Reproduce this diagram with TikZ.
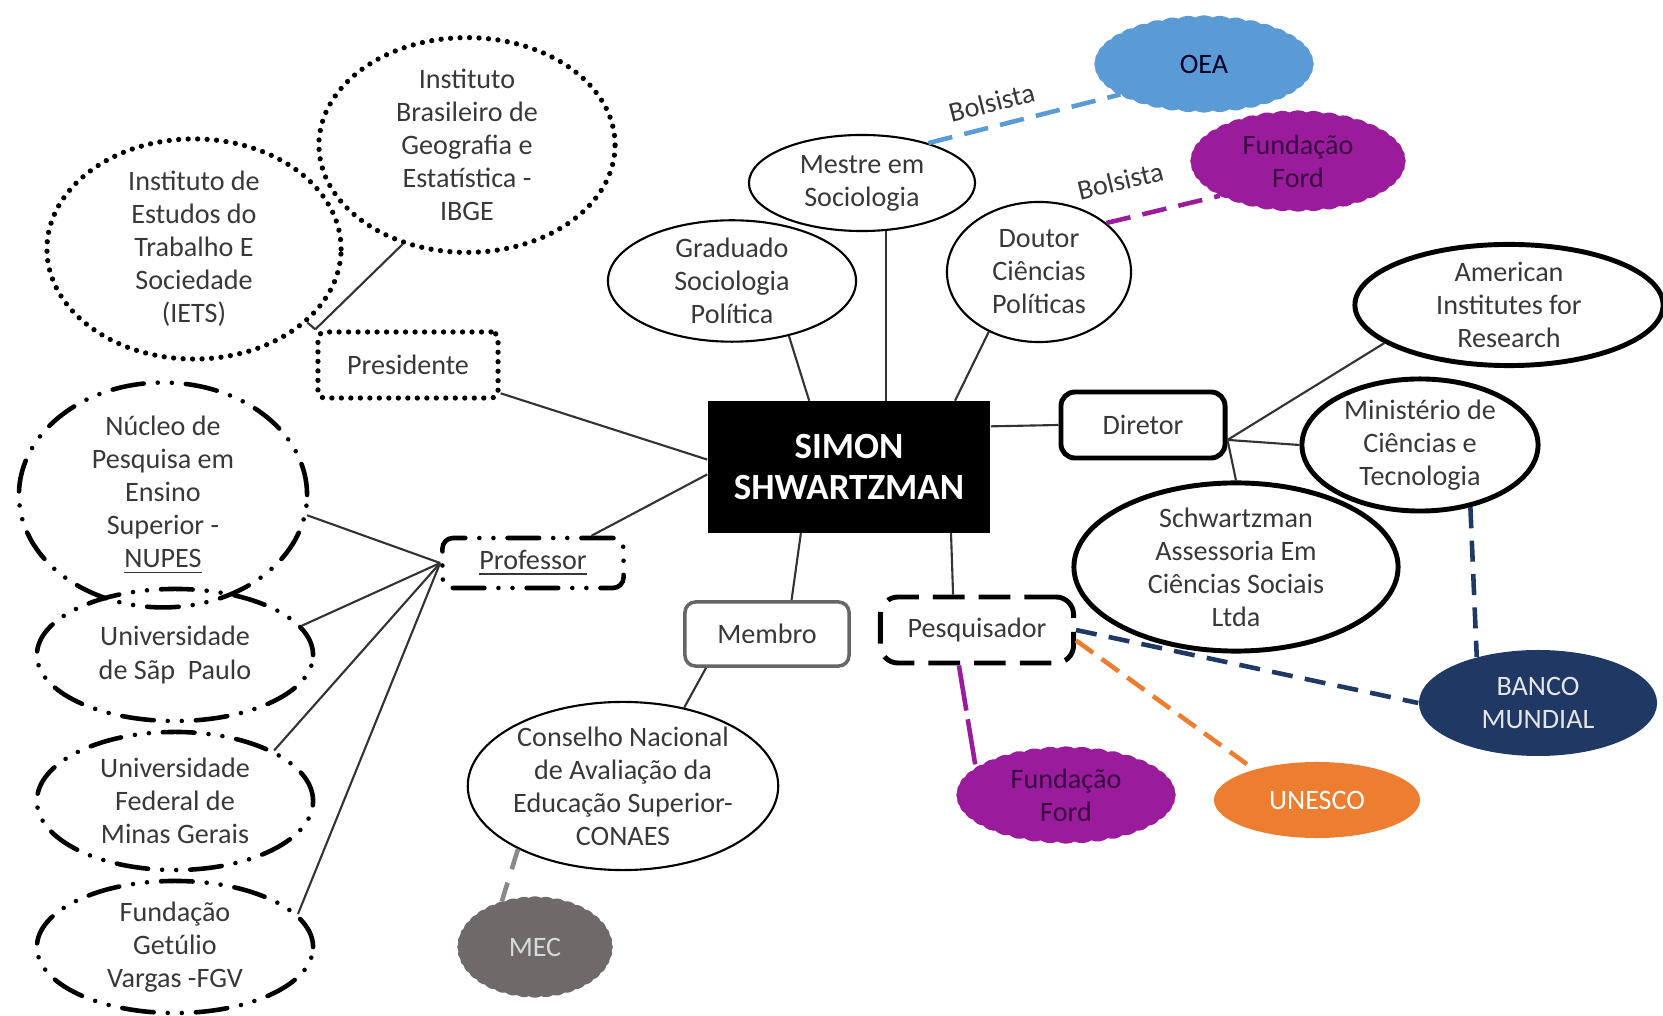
\documentclass[tikz,border=0pt]{standalone}
\usepackage{fontspec}
\setmainfont{Carlito}
\usetikzlibrary{shapes.geometric,shapes.symbols}

\definecolor{oeablue}{HTML}{5B9BD5}
\definecolor{fordpurple}{HTML}{9A1C9C}
\definecolor{fordtext}{HTML}{3A0B40}
\definecolor{unescoorange}{HTML}{ED7D31}
\definecolor{banconavy}{HTML}{1F3864}
\definecolor{mecgray}{HTML}{6F6A6A}

\tikzset{
  every node/.style = {font=\fontsize{8}{9.4}\selectfont, text=black!78, align=center},
  oval/.style = {ellipse, draw, inner sep=0pt},
  thinoval/.style = {oval, line width=0.6pt},
  boldoval/.style = {oval, line width=1.4pt},
  dotline/.style = {line width=1.5pt, line cap=round, dash pattern=on 0pt off 2.7pt},
  dashdotdot/.style = {line width=1.3pt, line cap=round, dash pattern=on 9pt off 4pt on 0pt off 4pt on 0pt off 4pt},
  cloudy/.style = {cloud, cloud puffs=40, cloud puff arc=60, cloud ignores aspect, inner sep=0pt},
  link/.style = {line width=0.6pt, black!80},
  colorlink/.style = {line width=1.3pt, dash pattern=on 7pt off 3.5pt},
}

\begin{document}
\begin{tikzpicture}[x=0.01cm, y=-0.01cm]
            \useasboundingbox (0,0) rectangle (1663,1016);

            %Simon
            \node [rectangle, fill=black, text=white, minimum width=2.82cm, minimum height=1.31cm, font=\fontsize{10.5}{11.6}\selectfont\bfseries]
            (simon)at(849,467){SIMON\\SHWARTZMAN};

            %Presidente
            \node [draw, dotline, rounded corners=2pt, minimum width=1.8cm, minimum height=0.66cm]
            (pres)at(408,365){Presidente};
            \node [oval, dotline, minimum width=2.94cm, minimum height=2.02cm]
            (iets)at(194,249){Instituto de\\Estudos do\\Trabalho E\\Sociedade\\(IETS)};
            \node [oval, dotline, minimum width=2.96cm, minimum height=1.98cm]
            (ibge)at(467,145){Instituto\\Brasileiro de\\Geografia e\\Estatística -\\IBGE};

            %Professor
            \node [draw, dashdotdot, rounded corners=3pt, minimum width=1.81cm, minimum height=0.37cm]
            (prof)at(533,563){\underline{Professor}};
            \node [oval, dashdotdot, minimum width=2.88cm, minimum height=1.64cm]
            (nupes)at(163,495){Núcleo de\\Pesquisa em\\Ensino\\Superior -\\\underline{NUPES}};
            \node [oval, dashdotdot, minimum width=2.76cm, minimum height=1.32cm]
            (usp)at(175,655){Universidade\\de Sãp~ Paulo};
            \node [oval, dashdotdot, minimum width=2.76cm, minimum height=1.38cm]
            (ufmg)at(175,801){Universidade\\Federal de\\Minas Gerais};
            \node [oval, dashdotdot, minimum width=2.76cm, minimum height=1.32cm]
            (fgv)at(175,947){Fundação\\Getúlio\\Vargas -FGV};

            %Formacao
            \node [thinoval, minimum width=2.48cm, minimum height=1.0cm]
            (grad)at(732,281){Graduado\\Sociologia\\Política};
            \node [thinoval, minimum width=2.26cm, minimum height=0.96cm]
            (mestre)at(862,183){Mestre em\\Sociologia};
            \node [thinoval, minimum width=1.84cm, minimum height=1.4cm]
            (doutor)at(1039,272){Doutor\\Ciências\\Políticas};
            \node [cloudy, fill=oeablue, draw=oeablue, text=black!85!blue, minimum width=2.18cm, minimum height=0.96cm]
            (oea)at(1204,64){OEA};
            \node [cloudy, fill=fordpurple, draw=fordpurple, text=fordtext, minimum width=2.14cm, minimum height=1.0cm]
            (ford1)at(1298,161){Fundação\\Ford};

            %Diretor
            \node [draw, line width=1.4pt, rounded corners=4pt, minimum width=1.64cm, minimum height=0.66cm]
            (diretor)at(1143,425){Diretor};
            \node [boldoval, minimum width=3.08cm, minimum height=1.16cm]
            (american)at(1509,305){American\\Institutes for\\Research};
            \node [boldoval, minimum width=2.36cm, minimum height=1.32cm]
            (ministerio)at(1420,445){Ministério de\\Ciências e\\Tecnologia};
            \node [boldoval, minimum width=3.24cm, minimum height=1.38cm]
            (schwartz)at(1236,567){Schwartzman\\Assessoria Em\\Ciências Sociais\\Ltda};

            %Membro
            \node [draw=black!60, line width=1pt, rounded corners=3pt, minimum width=1.64cm, minimum height=0.64cm]
            (membro)at(767,634){Membro};
            \node [thinoval, minimum width=3.02cm, minimum height=1.48cm]
            (conaes)at(623,786){Conselho Nacional\\de Avaliação da\\Educação Superior-\\CONAES};
            \node [cloudy, fill=mecgray, draw=mecgray, text=white!85!black, minimum width=1.54cm, minimum height=1.0cm]
            (mec)at(535,947){MEC};

            %Pesquisador
            \node [draw, line width=1.4pt, dash pattern=on 9pt off 4pt, rounded corners=5pt, minimum width=1.93cm, minimum height=0.66cm]
            (pesq)at(977,630){Pesquisador};
            \node [cloudy, fill=fordpurple, draw=fordpurple, text=fordtext, minimum width=2.18cm, minimum height=0.96cm]
            (ford2)at(1066,795){Fundação\\Ford};
            \node [ellipse, fill=unescoorange, text=white, minimum width=2.06cm, minimum height=0.76cm]
            (unesco)at(1317,800){UNESCO};
            \node [ellipse, fill=banconavy, text=white!90!black, minimum width=2.38cm, minimum height=0.9cm]
            (banco)at(1538,703){BANCO\\MUNDIAL};

            %Presidente links
            \draw [link](iets.-33)--(pres.north west);
            \draw [link](ibge.-123)--(pres.north west);
            \draw [link](pres.-17)--(simon.177);

            %Professor links
            \draw [link](prof.25)--(simon.183);
            \draw [link](nupes.-8)--(prof.west);
            \draw [link](usp.13)--(prof.west);
            \draw [link](ufmg.27)--(prof.west);
            \draw [link](fgv.15)--(prof.west);

            %Formacao links
            \draw [link](grad.-44)--(simon.121);
            \draw [link](mestre.-63)--(mestre.-63 |- simon.north);
            \draw [link](doutor.-130)--(simon.32);
            \draw [colorlink, oeablue](mestre.31)--node[sloped, above, pos=0.36]{Bolsista}(oea.-160);
            \draw [colorlink, fordpurple](doutor.36)--node[sloped, above=4pt, pos=0.2]{Bolsista}(ford1.-156);

            %Diretor links
            \draw [link](simon.16)--(diretor.west);
            \draw [link](diretor.-10)--(american.-163);
            \draw [link](diretor.-10)--(ministerio.west);
            \draw [link](diretor.-10)--(schwartz.north);

            %Membro links
            \draw [link](simon.-126)--(membro.54);
            \draw [link](membro.-151)--(conaes.52);
            \draw [colorlink, mecgray!80, dash pattern=on 6pt off 4pt](conaes.-149)--(mec.126);

            %Pesquisador links
            \draw [link](simon.-33)--(pesq.124);
            \draw [line width=1.3pt, fordpurple, dash pattern=on 13pt off 2.5pt](pesq.-117)--(ford2.163);
            \draw [colorlink, unescoorange, dash pattern=on 6pt off 3pt](pesq.-6)--(unesco.154);
            \draw [colorlink, banconavy, dash pattern=on 6pt off 3.5pt](pesq.east)--(banco.west);
            \draw [colorlink, banconavy, dash pattern=on 6pt off 3.5pt](ministerio.-51)--(banco.143);

        \end{tikzpicture}
\end{document}
